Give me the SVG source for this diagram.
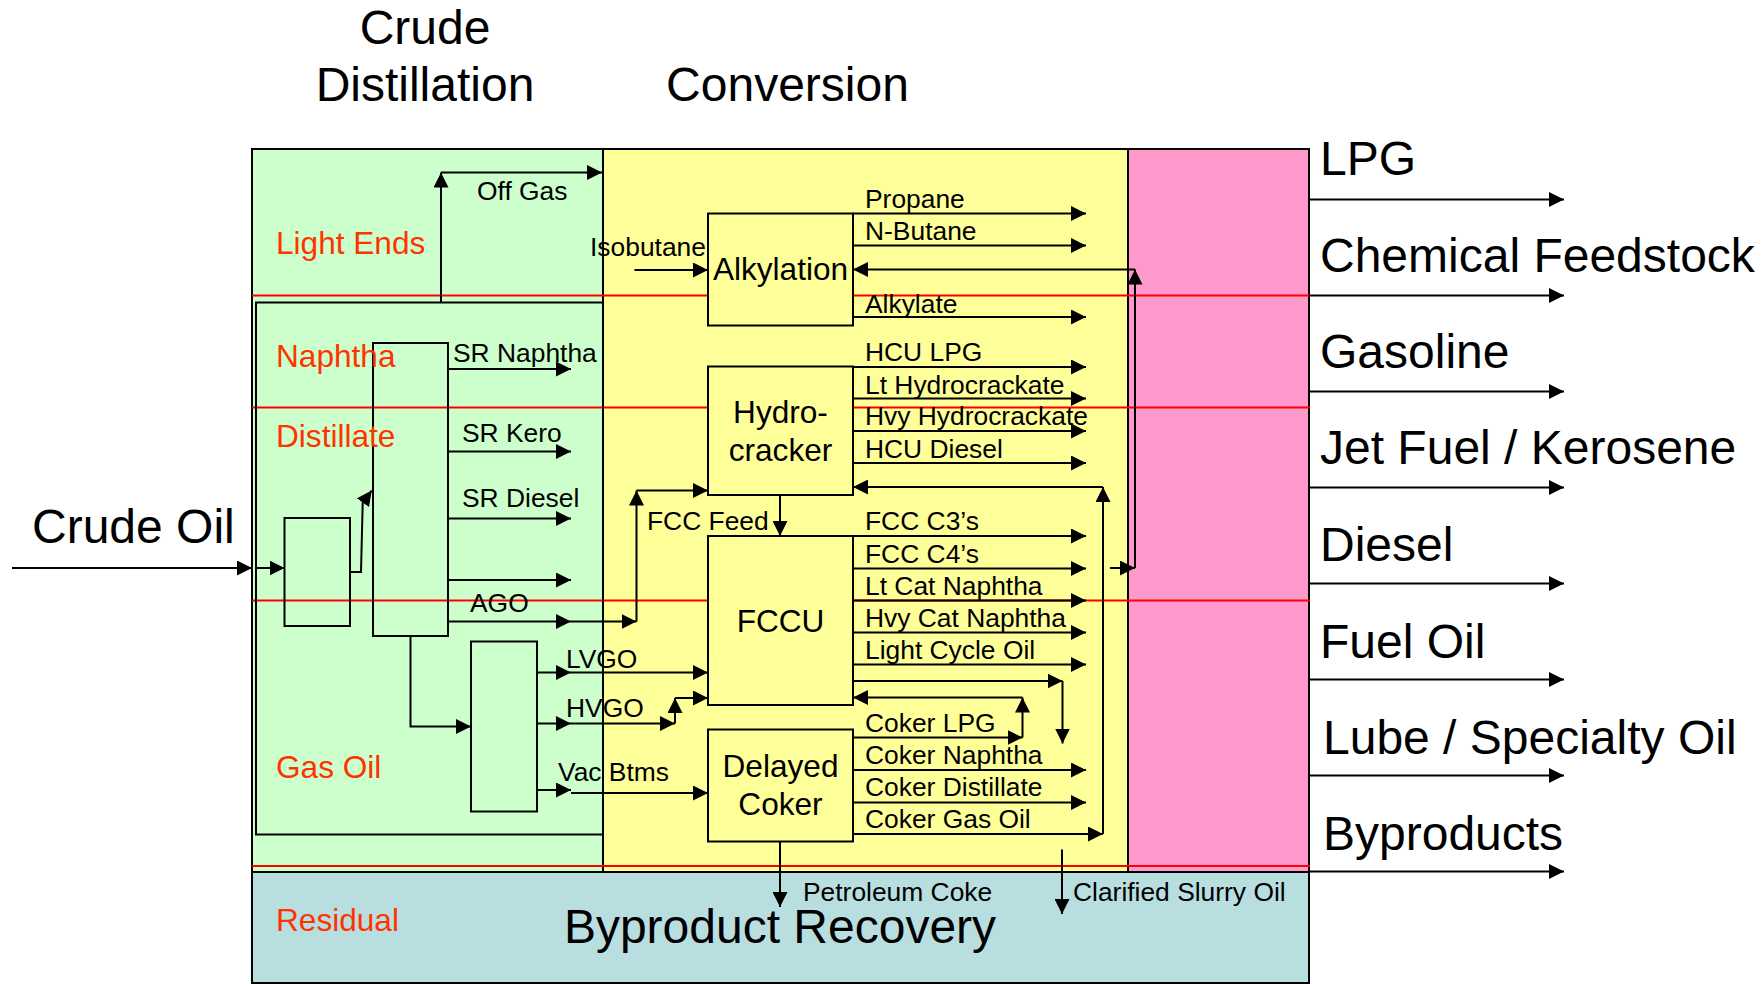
<svg xmlns="http://www.w3.org/2000/svg" width="1763" height="984" viewBox="0 0 1763 984">
<style>
  text { font-family: "Liberation Sans", Arial, sans-serif; fill: #000; }
  .lbl { font-size: 26.4px; }
  .unit { font-size: 31.6px; text-anchor: middle; }
  .big { font-size: 48px; }
  .zone { font-size: 31.6px; fill: #FF3300; }
  .redline { stroke: #FF0000; stroke-width: 2; fill: none; }
  .box { stroke: #000; stroke-width: 2; }
  .tower { fill: none; stroke: #000; stroke-width: 2; }
  .conn line, .conn path { stroke: #000; stroke-width: 2; fill: none; marker-end: url(#ah); }
</style>
<defs>
  <marker id="ah" markerWidth="15" markerHeight="15" refX="15" refY="7.5" orient="auto" markerUnits="userSpaceOnUse">
    <path d="M0,0 L15,7.5 L0,15 z" fill="#000"/>
  </marker>
</defs>
<rect width="1763" height="984" fill="#fff"/>

<!-- Regions -->
<g id="region-distillation"><rect class="box" x="252" y="149" width="351" height="723" fill="#CCFFCC"/></g>
<g id="region-conversion"><rect class="box" x="603" y="149" width="525" height="723" fill="#FFFF99"/></g>
<g id="region-blending"><rect class="box" x="1128" y="149" width="181" height="723" fill="#FF99CC"/></g>
<g id="region-byproduct"><rect class="box" x="252" y="872" width="1057" height="111" fill="#B9DEE0"/></g>

<!-- red cut lines -->
<g id="cut-lines">
  <line class="redline" x1="252" y1="295.5" x2="1310" y2="295.5"/>
  <line class="redline" x1="252" y1="407.5" x2="1310" y2="407.5"/>
  <line class="redline" x1="252" y1="600.5" x2="1310" y2="600.5"/>
  <line class="redline" x1="252" y1="866" x2="1310" y2="866"/>
</g>

<!-- inner distillation frame -->
<g id="distillation-frame"><rect class="tower" x="256" y="302.5" width="347" height="532"/></g>

<!-- towers -->
<g id="desalter"><rect class="tower" x="284.5" y="518" width="65.5" height="108"/></g>
<g id="atmospheric-column"><rect class="tower" x="373" y="343" width="75" height="293"/></g>
<g id="vacuum-column"><rect class="tower" x="471" y="641.5" width="66" height="170"/></g>

<!-- conversion units -->
<g id="alkylation">
  <rect class="box" x="708" y="213.5" width="145" height="112" fill="#FFFF99"/>
  <text class="unit" x="780.5" y="280">Alkylation</text>
</g>
<g id="hydrocracker">
  <rect class="box" x="708" y="366.5" width="145" height="128.5" fill="#FFFF99"/>
  <text class="unit" x="780.5" y="423">Hydro-</text>
  <text class="unit" x="780.5" y="461">cracker</text>
</g>
<g id="fccu">
  <rect class="box" x="708" y="536" width="145" height="169" fill="#FFFF99"/>
  <text class="unit" x="780.5" y="632">FCCU</text>
</g>
<g id="delayed-coker">
  <rect class="box" x="708" y="729.5" width="145" height="112" fill="#FFFF99"/>
  <text class="unit" x="780.5" y="777">Delayed</text>
  <text class="unit" x="780.5" y="815">Coker</text>
</g>

<!-- connectors -->
<g id="connectors" class="conn">
  <line x1="12" y1="568" x2="252" y2="568"/>
  <line x1="256" y1="568" x2="284.5" y2="568"/>
  <path d="M350,572 H361 L362.7,503 L371.7,490.5"/>
  <line x1="441" y1="302.5" x2="441" y2="172.5"/>
  <line x1="441" y1="172.5" x2="602" y2="172.5"/>
  <line x1="448" y1="369" x2="571" y2="369"/>
  <line x1="448" y1="451.5" x2="571" y2="451.5"/>
  <line x1="448" y1="518.5" x2="571" y2="518.5"/>
  <line x1="448" y1="580" x2="571" y2="580"/>
  <line x1="448" y1="621.5" x2="571" y2="621.5"/>
  <line x1="571" y1="621.5" x2="636.5" y2="621.5"/>
  <line x1="636.5" y1="621.5" x2="636.5" y2="490.5"/>
  <line x1="636.5" y1="490.5" x2="708" y2="490.5"/>
  <path d="M410.5,636 V726.5 H471"/>
  <line x1="537" y1="672.5" x2="571" y2="672.5"/>
  <line x1="571" y1="672.5" x2="708" y2="672.5"/>
  <line x1="537" y1="723.5" x2="571" y2="723.5"/>
  <line x1="571" y1="723.5" x2="675" y2="723.5"/>
  <line x1="675" y1="723.5" x2="675" y2="698"/>
  <line x1="675" y1="698" x2="708" y2="698"/>
  <line x1="537" y1="790" x2="571" y2="790"/>
  <line x1="571" y1="793" x2="708" y2="793"/>
  <line x1="634.5" y1="270" x2="708" y2="270"/>
  <line x1="853" y1="213.5" x2="1086" y2="213.5"/>
  <line x1="853" y1="245.5" x2="1086" y2="245.5"/>
  <line x1="853" y1="317" x2="1086" y2="317"/>
  <line x1="1110" y1="568" x2="1135" y2="568"/>
  <line x1="1135" y1="568" x2="1135" y2="269.5"/>
  <line x1="1135" y1="269.5" x2="853" y2="269.5"/>
  <line x1="853" y1="367" x2="1086" y2="367"/>
  <line x1="853" y1="398.5" x2="1086" y2="398.5"/>
  <line x1="853" y1="431" x2="1086" y2="431"/>
  <line x1="853" y1="463" x2="1086" y2="463"/>
  <line x1="780" y1="495" x2="780" y2="536"/>
  <line x1="853" y1="536" x2="1086" y2="536"/>
  <line x1="853" y1="568.5" x2="1086" y2="568.5"/>
  <line x1="853" y1="600.5" x2="1086" y2="600.5"/>
  <line x1="853" y1="632.5" x2="1086" y2="632.5"/>
  <line x1="853" y1="664.5" x2="1086" y2="664.5"/>
  <line x1="853" y1="681" x2="1062.5" y2="681"/>
  <line x1="1062.5" y1="681" x2="1062.5" y2="743.5"/>
  <line x1="853" y1="737.5" x2="1022.5" y2="737.5"/>
  <line x1="1022.5" y1="737.5" x2="1022.5" y2="697.5"/>
  <line x1="1022.5" y1="697.5" x2="853" y2="697.5"/>
  <line x1="853" y1="770" x2="1086" y2="770"/>
  <line x1="853" y1="802.5" x2="1086" y2="802.5"/>
  <line x1="853" y1="834" x2="1103" y2="834"/>
  <line x1="1103" y1="834" x2="1103" y2="487"/>
  <line x1="1103" y1="487" x2="853" y2="487"/>
  <line x1="780" y1="841.5" x2="780" y2="907"/>
  <line x1="1062" y1="849.5" x2="1062" y2="914"/>
  <line x1="1309" y1="199.5" x2="1564" y2="199.5"/>
  <line x1="1309" y1="295.5" x2="1564" y2="295.5"/>
  <line x1="1309" y1="391.5" x2="1564" y2="391.5"/>
  <line x1="1309" y1="487.5" x2="1564" y2="487.5"/>
  <line x1="1309" y1="583.5" x2="1564" y2="583.5"/>
  <line x1="1309" y1="679.5" x2="1564" y2="679.5"/>
  <line x1="1309" y1="775.5" x2="1564" y2="775.5"/>
  <line x1="1309" y1="871.5" x2="1564" y2="871.5"/>
</g>

<!-- titles -->
<g id="titles">
  <text class="big" x="425" y="44" text-anchor="middle">Crude</text>
  <text class="big" x="425" y="101" text-anchor="middle">Distillation</text>
  <text class="big" x="787.5" y="101" text-anchor="middle">Conversion</text>
  <text class="big" x="32" y="543">Crude Oil</text>
  <text class="big" x="780" y="943" text-anchor="middle">Byproduct Recovery</text>
</g>

<!-- zone labels -->
<g id="zone-labels">
  <text class="zone" x="276" y="254">Light Ends</text>
  <text class="zone" x="276" y="367">Naphtha</text>
  <text class="zone" x="276" y="447">Distillate</text>
  <text class="zone" x="276" y="778">Gas Oil</text>
  <text class="zone" x="276" y="931">Residual</text>
</g>

<!-- stream labels -->
<g id="stream-labels">
  <text class="lbl" x="477" y="200">Off Gas</text>
  <text class="lbl" x="453" y="362">SR Naphtha</text>
  <text class="lbl" x="462" y="442">SR Kero</text>
  <text class="lbl" x="462" y="507">SR Diesel</text>
  <text class="lbl" x="470" y="612">AGO</text>
  <text class="lbl" x="566" y="668">LVGO</text>
  <text class="lbl" x="566" y="717">HVGO</text>
  <text class="lbl" x="558" y="781">Vac Btms</text>
  <text class="lbl" x="590" y="256">Isobutane</text>
  <text class="lbl" x="647" y="530">FCC Feed</text>
  <text class="lbl" x="865" y="207.5">Propane</text>
  <text class="lbl" x="865" y="240">N-Butane</text>
  <text class="lbl" x="865" y="312.5">Alkylate</text>
  <text class="lbl" x="865" y="361">HCU LPG</text>
  <text class="lbl" x="865" y="393.5">Lt Hydrocrackate</text>
  <text class="lbl" x="865" y="425">Hvy Hydrocrackate</text>
  <text class="lbl" x="865" y="457.5">HCU Diesel</text>
  <text class="lbl" x="865" y="530">FCC C3’s</text>
  <text class="lbl" x="865" y="562.5">FCC C4’s</text>
  <text class="lbl" x="865" y="595">Lt Cat Naphtha</text>
  <text class="lbl" x="865" y="627">Hvy Cat Naphtha</text>
  <text class="lbl" x="865" y="659">Light Cycle Oil</text>
  <text class="lbl" x="865" y="732">Coker LPG</text>
  <text class="lbl" x="865" y="764">Coker Naphtha</text>
  <text class="lbl" x="865" y="796">Coker Distillate</text>
  <text class="lbl" x="865" y="828">Coker Gas Oil</text>
  <text class="lbl" x="803" y="901">Petroleum Coke</text>
  <text class="lbl" x="1073" y="901">Clarified Slurry Oil</text>
</g>

<!-- product labels -->
<g id="product-labels">
  <text class="big" x="1320" y="175">LPG</text>
  <text class="big" x="1320" y="271.5">Chemical Feedstock</text>
  <text class="big" x="1320" y="367.5">Gasoline</text>
  <text class="big" x="1320" y="464">Jet Fuel / Kerosene</text>
  <text class="big" x="1320" y="561">Diesel</text>
  <text class="big" x="1320" y="658">Fuel Oil</text>
  <text class="big" x="1323" y="754">Lube / Specialty Oil</text>
  <text class="big" x="1323" y="850">Byproducts</text>
</g>
</svg>
